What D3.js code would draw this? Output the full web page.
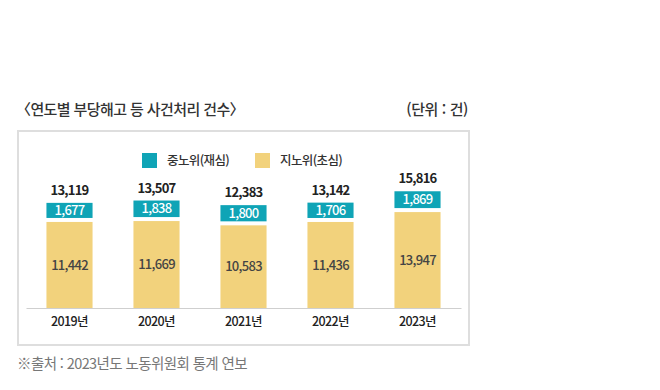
<!DOCTYPE html>
<html lang="ko">
<head>
<meta charset="utf-8">
<script src="https://cdn.jsdelivr.net/npm/d3@7"></script>
<style>
  body { margin: 0; background: #fff; }
  svg { display: block; font-family: "Noto Sans CJK KR", "Noto Sans", sans-serif; }
</style>
</head>
<body>
<svg id="chart"></svg>
<script>
// 연도별 부당해고 등 사건처리 건수 (단위: 건)
const years = ["2019년", "2020년", "2021년", "2022년", "2023년"]
const jaesim = [1677, 1838, 1800, 1706, 1869]        // 중노위(재심)
const chosim = [11442, 11669, 10583, 11436, 13947]   // 지노위(초심)
const totals = [13119, 13507, 12383, 13142, 15816]
const legendLabels = ["중노위(재심)", "지노위(초심)"]

const data = years.map((y, i) => ({
    year: y,
    jaesim: jaesim[i],
    chosim: chosim[i],
    total: totals[i]
}))

const width = 660
const height = 390
const baseline = 308
const teal = "#0fa4b6"
const yellow = "#f2d27c"
const fmt = d3.format(",")

const svg = d3.select("#chart")
    .attr("width", width)
    .attr("height", height)

// 제목
svg.append("text")
    .attr("x", 16)
    .attr("y", 115)
    .attr("font-size", 15)
    .attr("font-weight", 500)
    .attr("fill", "#333")
    .attr("letter-spacing", -0.6)
    .text("〈연도별 부당해고 등 사건처리 건수〉")

svg.append("text")
    .attr("x", 468)
    .attr("y", 115)
    .attr("text-anchor", "end")
    .attr("font-size", 15)
    .attr("font-weight", 500)
    .attr("fill", "#333")
    .attr("letter-spacing", -0.4)
    .text("(단위 : 건)")

// 테두리 박스
svg.append("rect")
    .attr("x", 18)
    .attr("y", 131)
    .attr("width", 451)
    .attr("height", 214)
    .attr("fill", "none")
    .attr("stroke", "#dedede")
    .attr("stroke-width", 2)

// 스케일
const xScale = d3.scaleBand()
    .domain(years)
    .range([26, 461])
    .paddingInner(0.47)
    .paddingOuter(0.235)

// 초심 막대 (디자인 원본이 0 기준이 아님)
const yScale = d3.scaleLinear()
    .domain([-10400, 16000])
    .range([baseline, baseline - 104])

// 재심 박스 높이
const hScale = d3.scaleLinear()
    .domain([0, 2000])
    .range([0, 18])

const gap = 4

// X 축
const xAxis = svg.append("g")
    .attr("transform", `translate(0, ${baseline})`)
    .call(d3.axisBottom(xScale).tickSize(0).tickPadding(9))

xAxis.select(".domain").attr("stroke", "#cfcfcf")
xAxis.selectAll("text")
    .attr("font-size", 12.5)
    .attr("font-weight", 500)
    .attr("fill", "#222")
    .attr("font-family", "\"Noto Sans CJK KR\", sans-serif")
    .attr("letter-spacing", -0.6)

const bars = svg.append("g")
    .selectAll("g")
    .data(data)
    .join("g")

bars.append("rect")
    .attr("x", d => xScale(d.year))
    .attr("y", d => yScale(d.chosim))
    .attr("width", xScale.bandwidth())
    .attr("height", d => baseline - yScale(d.chosim))
    .attr("fill", yellow)

bars.append("text")
    .attr("x", d => xScale(d.year) + xScale.bandwidth() / 2)
    .attr("y", d => (yScale(d.chosim) + baseline) / 2)
    .attr("dy", "0.35em")
    .attr("text-anchor", "middle")
    .attr("font-size", 13)
    .attr("font-weight", 500)
    .attr("fill", "#444")
    .attr("letter-spacing", -0.7)
    .text(d => fmt(d.chosim))

bars.append("rect")
    .attr("x", d => xScale(d.year))
    .attr("y", d => yScale(d.chosim) - gap - hScale(d.jaesim))
    .attr("width", xScale.bandwidth())
    .attr("height", d => hScale(d.jaesim))
    .attr("fill", teal)

bars.append("text")
    .attr("x", d => xScale(d.year) + xScale.bandwidth() / 2)
    .attr("y", d => yScale(d.chosim) - gap - hScale(d.jaesim) / 2)
    .attr("dy", "0.35em")
    .attr("text-anchor", "middle")
    .attr("font-size", 13)
    .attr("font-weight", 500)
    .attr("fill", "#fff")
    .attr("letter-spacing", -0.7)
    .text(d => fmt(d.jaesim))

bars.append("text")
    .attr("x", d => xScale(d.year) + xScale.bandwidth() / 2)
    .attr("y", d => yScale(d.chosim) - gap - hScale(d.jaesim) - 8)
    .attr("text-anchor", "middle")
    .attr("font-size", 13)
    .attr("font-weight", "bold")
    .attr("fill", "#222")
    .attr("letter-spacing", -0.8)
    .text(d => fmt(d.total))

// 범례
const legend = svg.append("g")
const legendX = [142, 255]
const legendColors = [teal, yellow]

legendLabels.forEach((label, i) => {
    legend.append("rect")
        .attr("x", legendX[i])
        .attr("y", 153)
        .attr("width", 15)
        .attr("height", 15)
        .attr("fill", legendColors[i])
    legend.append("text")
        .attr("x", legendX[i] + 25)
        .attr("y", 160.5)
        .attr("dy", "0.35em")
        .attr("font-size", 12.5)
        .attr("font-weight", 500)
        .attr("fill", "#333")
        .attr("letter-spacing", -0.6)
        .text(label)
})

// 출처
svg.append("text")
    .attr("x", 17)
    .attr("y", 369)
    .attr("font-size", 14.5)
    .attr("fill", "#777")
    .attr("letter-spacing", -0.6)
    .text("※출처 : 2023년도 노동위원회 통계 연보")
</script>
</body>
</html>
